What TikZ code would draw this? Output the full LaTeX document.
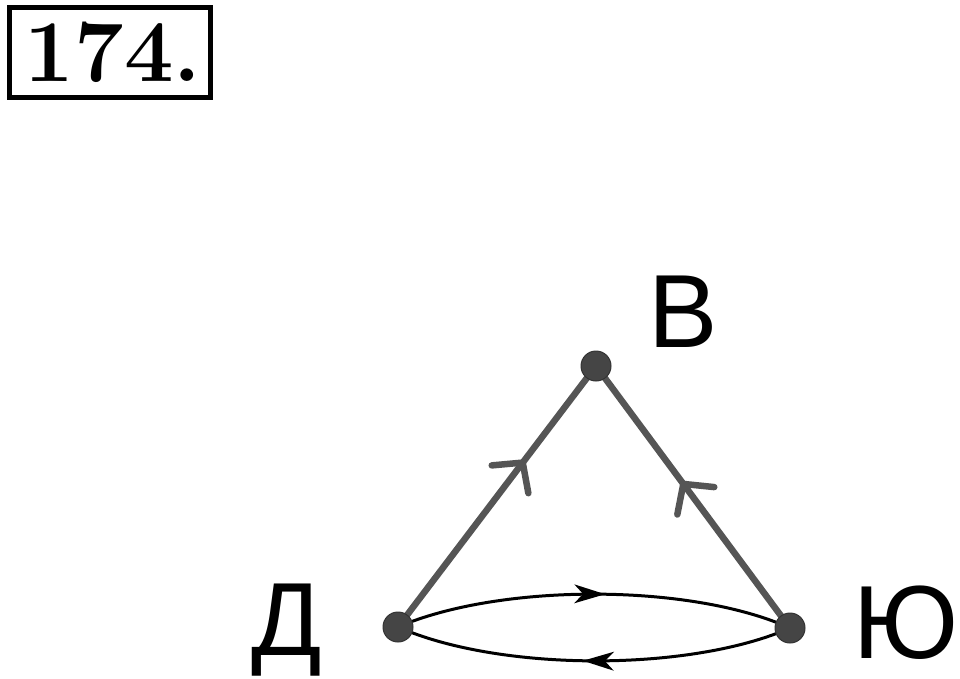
\documentclass[tikz,border=0pt]{standalone}
\usepackage{fontspec}
\newfontfamily\labelfont{Liberation Sans}
\usetikzlibrary{decorations.markings}
\definecolor{edgegray}{HTML}{555555}
\definecolor{dotgray}{HTML}{454545}
\begin{document}
\begin{tikzpicture}[x=1pt,y=-1pt,
  vertex/.style={circle,fill=dotgray,draw=black!80,line width=1pt,minimum size=30pt,inner sep=0pt},
  vlabel/.style={font=\labelfont\fontsize{104}{110}\selectfont,inner sep=0pt,anchor=base},
  triedge/.style={draw=edgegray,line width=6.5pt,
    postaction={decorate},
    decoration={markings,mark=at position #1 with {
      \draw[edgegray,line width=6.5pt,line cap=round,line join=round]
        (-21pt,23pt) -- (0pt,0pt) -- (-21pt,-23pt);}}},
  bottomedge/.style={draw=black,line width=3pt,
    postaction={decorate},
    decoration={markings,mark=at position #1 with {
      \fill[black] (3pt,0pt) -- (-28pt,9.5pt) -- (-19pt,0pt) -- (-28pt,-9.5pt) -- cycle;}}},
  titlebox/.style={draw=black,line width=5pt,minimum width=201pt,minimum height=90pt,inner sep=0pt}
]
\useasboundingbox (0,0) rectangle (960,679);
\fill[white] (0,0) rectangle (960,679);

% title
\node[titlebox] (box) at (110,52.5) {};
\node[font=\bfseries\fontsize{88}{90}\selectfont,inner sep=0pt,anchor=base] (num) at (113,82) {174.};

% vertices
\coordinate (D) at (398,627);
\coordinate (Yu) at (790,628);
\coordinate (V) at (596,366);

% edges of triangle
\path[triedge=0.63] (D) -- (V);
\path[triedge=0.55] (Yu) -- (V);

% bottom curves
\path[bottomedge=0.52] (D) .. controls (500,583) and (690,583) .. (Yu);
\path[bottomedge=0.52] (Yu) .. controls (690,672) and (500,672) .. (D);

% dots
\node[vertex] (nD) at (D) {};
\node[vertex] (nYu) at (Yu) {};
\node[vertex] (nV) at (V) {};

% labels
\node[vlabel] (lV) at (683,347) {В};
\node[vlabel] (lD) at (287,655) {Д};
\node[vlabel] (lYu) at (906,658) {Ю};
\end{tikzpicture}
\end{document}
